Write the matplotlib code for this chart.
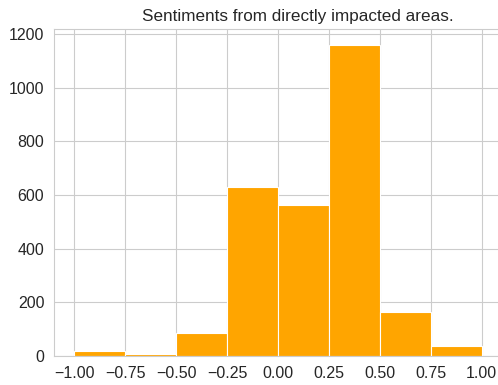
import matplotlib
matplotlib.use("Agg")
import matplotlib.pyplot as plt
import numpy as np
import seaborn as sns

# histogram of sentiment scores, 8 bins from -1 to 1
bin_edges = [-1.0, -0.75, -0.5, -0.25, 0.0, 0.25, 0.5, 0.75, 1.0]
counts = [20, 7, 86, 630, 562, 1160, 163, 36]
tick_labels = ['\u22121.00', '\u22120.75', '\u22120.50', '\u22120.25',
               '0.00', '0.25', '0.50', '0.75', '1.00']

sns.set_style("whitegrid")
plt.rcParams['font.family'] = ['Arial', 'Liberation Sans', 'DejaVu Sans']

fig = plt.figure(figsize=(4.98, 3.85), dpi=100)
# the original image is cropped on the right, so the axes runs past the edge
ax = fig.add_axes([54 / 498, 29 / 385, 448 / 498, 327 / 385])
ax.hist(bin_edges[:-1], bins=bin_edges, weights=counts,
        color='orange', edgecolor='white', linewidth=0.8)
ax.set_title('Sentiments from directly impacted areas.', fontsize=12.3, x=0.545)
ax.tick_params(labelsize=11.5)
ax.set_xticks(np.arange(-1.0, 1.01, 0.25))
ax.set_xticklabels(tick_labels)

fig.savefig('out.png', dpi=100)
